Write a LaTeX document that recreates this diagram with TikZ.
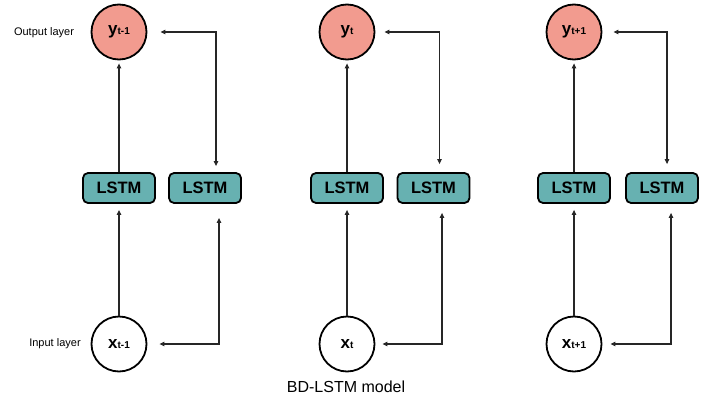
\documentclass[tikz,border=0pt]{standalone}
\usepackage{fontspec}
\setmainfont{Liberation Sans}
\usetikzlibrary{arrows.meta}
\definecolor{outpink}{HTML}{F29B8F}
\definecolor{lstmteal}{HTML}{67B1B1}
\newcommand\nodelab[2]{{\fontsize{17}{17}\selectfont\bfseries #1}{\fontsize{10}{10}\selectfont\bfseries #2}}
\begin{document}
\begin{tikzpicture}[x=1pt,y=-1pt,
  outnode/.style={circle, draw=black, line width=1.8pt, fill=outpink, minimum size=55pt, inner sep=0pt},
  innode/.style={circle, draw=black, line width=1.8pt, fill=white, minimum size=55pt, inner sep=0pt},
  lstmbox/.style={draw=black, line width=1.8pt, fill=lstmteal, rounded corners=5pt, minimum width=72pt, minimum height=30pt, inner sep=0pt, font=\fontsize{16.5}{18}\selectfont\bfseries},
  conn/.style={line width=1.1pt, draw=black!85, -{Triangle[length=5pt,width=4.5pt]}},
  biconn/.style={line width=1.1pt, draw=black!85, {Triangle[length=5pt,width=4.5pt]}-{Triangle[length=5pt,width=4.5pt]}},
  layerlabel/.style={font=\fontsize{11}{13}\selectfont},
]
\useasboundingbox (0,0) rectangle (711,401);
% output nodes
\node[outnode] (y1) at (119,32) {\nodelab{y}{t-1}};
\node[outnode] (y2) at (347,32) {\nodelab{y}{t}};
\node[outnode] (y3) at (574,32) {\nodelab{y}{t+1}};
% input nodes
\node[innode] (x1) at (119,344) {\nodelab{x}{t-1}};
\node[innode] (x2) at (347,344) {\nodelab{x}{t}};
\node[innode] (x3) at (574,344) {\nodelab{x}{t+1}};
% LSTM boxes
\node[lstmbox] (L1) at (119,188) {LSTM};
\node[lstmbox] (R1) at (205,188) {LSTM};
\node[lstmbox] (L2) at (347,188) {LSTM};
\node[lstmbox] (R2) at (433.5,188) {LSTM};
\node[lstmbox] (L3) at (574,188) {LSTM};
\node[lstmbox] (R3) at (662,188) {LSTM};
% labels
\node[layerlabel] (outlab) at (44,33) {Output layer};
\node[layerlabel] (inlab) at (55,344) {Input layer};
\node[font=\fontsize{16}{18}\selectfont] (title) at (346,387) {BD-LSTM model};
% forward connectors
\draw[conn, shorten >=3pt] (L1.north) -- (y1.south);
\draw[conn, shorten >=6pt] (x1.north) -- (L1.south);
\draw[conn, shorten >=3pt] (L2.north) -- (y2.south);
\draw[conn, shorten >=6pt] (x2.north) -- (L2.south);
\draw[conn, shorten >=3pt] (L3.north) -- (y3.south);
\draw[conn, shorten >=6pt] (x3.north) -- (L3.south);
% backward connectors
\draw[biconn, shorten <=13pt, shorten >=6pt] (y1.east) -| ([xshift=11pt]R1.north);
\draw[biconn, shorten <=14pt, shorten >=12pt] ([xshift=14pt]R1.south) |- (x1.east);
\draw[biconn, shorten <=9pt, shorten >=8pt] (y2.east) -| ([xshift=6pt]R2.north);
\draw[biconn, shorten <=9pt, shorten >=7pt] ([xshift=8.5pt]R2.south) |- (x2.east);
\draw[biconn, shorten <=11pt, shorten >=8pt] (y3.east) -| ([xshift=5pt]R3.north);
\draw[biconn, shorten <=9pt, shorten >=8pt] ([xshift=9pt]R3.south) |- (x3.east);
\end{tikzpicture}
\end{document}
